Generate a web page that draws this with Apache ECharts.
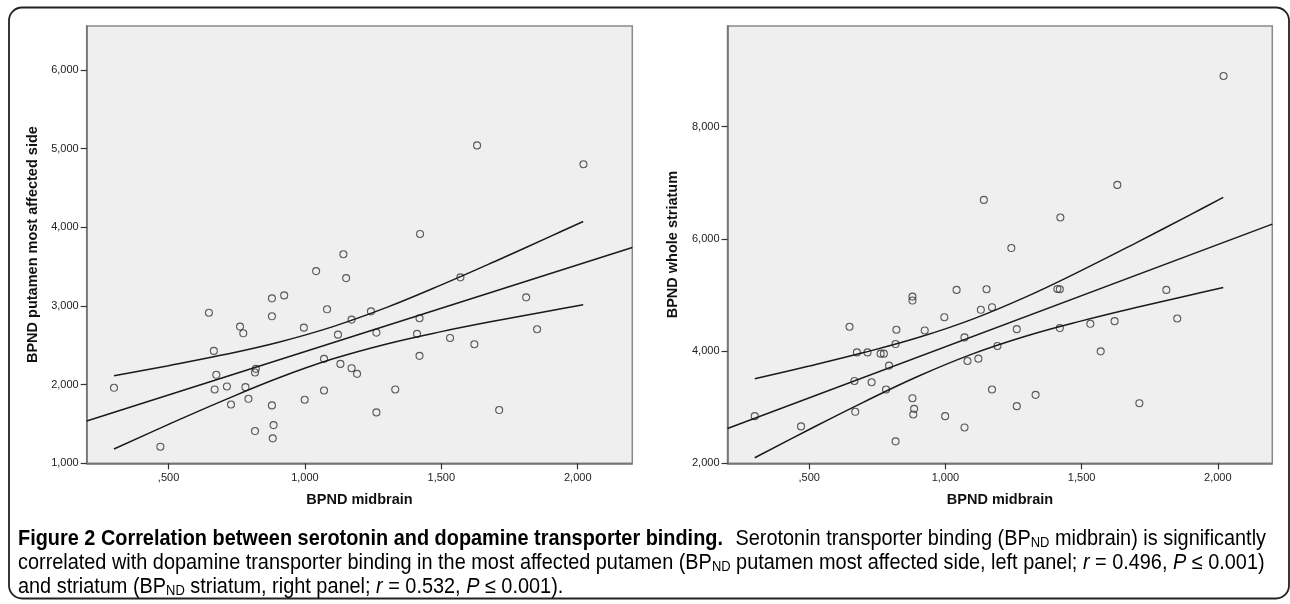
<!DOCTYPE html>
<html>
<head>
<meta charset="utf-8">
<script src="https://cdn.jsdelivr.net/npm/echarts@6.0.0/dist/echarts.min.js"></script>
<style>
html,body{margin:0;padding:0;background:#fff;}
#chart{width:1290px;height:604px;}
</style>
</head>
<body>
<div id="chart"></div>
<script>
// ---- data ----
const midbrain = [0.30,0.47,0.648,0.666,0.675,0.669,0.714,0.729,0.762,0.774,0.782,0.793,0.817,0.820,0.817,0.879,0.879,0.879,0.885,0.882,0.924,0.996,0.999,1.041,1.081,1.070,1.070,1.121,1.130,1.141,1.151,1.171,1.171,1.191,1.242,1.262,1.262,1.331,1.411,1.420,1.420,1.422,1.532,1.570,1.621,1.631,1.712,1.811,1.851,2.021];
const putamen = [1960,1211,2915,2429,2125,1939,1977,1748,2738,2653,1968,1820,2154,2201,1410,3097,2869,1736,1486,1317,3135,2725,1808,3444,2958,2328,1926,2636,2264,3658,3355,2827,2209,2137,2932,2662,1647,1939,2645,2844,2366,3916,2594,3364,2514,5042,1677,3110,2704,4802];
const striatum = [2840,2657,4432,3467,3976,2917,3976,3444,3953,3953,3314,3740,4124,4379,2391,4970,4899,3160,2970,2870,4367,4603,2840,5089,3822,4243,2639,3864,4734,6692,5100,4781,3314,4089,5834,4390,3018,3219,5106,5100,4408,6379,4485,3994,4532,6959,3071,5089,4580,8900];

// fit lines (end points)
const fitX = [0.2, 2.2];
const putamenFit = [1537, 3743];
const striatumFit = [2621, 6260];

// confidence band curves
const ciX = [0.30, 0.50, 0.70, 0.90, 1.10, 1.30, 1.50, 1.70, 1.90, 2.02];
const putamenUpper = [2112, 2241, 2379, 2537, 2735, 2982, 3268, 3572, 3885, 4075];
const putamenLower = [1182, 1495, 1797, 2081, 2325, 2518, 2674, 2812, 2939, 3015];
const striatumUpper = [3507, 3732, 3972, 4240, 4569, 4974, 5437, 5927, 6431, 6736];
const striatumLower = [2099, 2602, 3090, 3550, 3949, 4272, 4537, 4775, 4999, 5130];

// ticks
const xTickValues = [0.5, 1.0, 1.5, 2.0];
const xTickLabels = [',500', '1,000', '1,500', '2,000'];
const yLeftTickValues = [1000, 2000, 3000, 4000, 5000, 6000];
const yLeftTickLabels = ['1,000', '2,000', '3,000', '4,000', '5,000', '6,000'];
const yRightTickValues = [2000, 4000, 6000, 8000];
const yRightTickLabels = ['2,000', '4,000', '6,000', '8,000'];

const xTitle = 'BPND midbrain';
const yLeftTitle = 'BPND putamen most affected side';
const yRightTitle = 'BPND whole striatum';

// ---- build options ----
function lookup(vals, labels) {
  return function (v) {
    for (let i = 0; i < vals.length; i++) if (Math.abs(vals[i] - v) < 1e-6) return labels[i];
    return '';
  };
}
const FONT = "'Liberation Sans', Arial, sans-serif";
const axisLineStyle = { show: true, lineStyle: { color: '#6e6e6e', width: 1.5 } };
function xAxisOf(gi) {
  return {
    type: 'value', gridIndex: gi, min: 0.2, max: 2.2,
    axisLine: axisLineStyle,
    axisTick: { show: true, customValues: xTickValues, length: 6, lineStyle: { color: '#333', width: 1.2 } },
    axisLabel: { show: true, customValues: xTickValues, formatter: lookup(xTickValues, xTickLabels), margin: 9, color: '#222', fontSize: 11, fontFamily: FONT },
    splitLine: { show: false }
  };
}
function yAxisOf(gi, min, max, vals, labels) {
  return {
    type: 'value', gridIndex: gi, min: min, max: max,
    axisLine: axisLineStyle,
    axisTick: { show: true, customValues: vals, length: 6, lineStyle: { color: '#333', width: 1.2 } },
    axisLabel: { show: true, customValues: vals, formatter: lookup(vals, labels), margin: 8, color: '#222', fontSize: 11, fontFamily: FONT },
    splitLine: { show: false }
  };
}
function scatter(gi, ys) {
  return {
    type: 'scatter', xAxisIndex: gi, yAxisIndex: gi,
    data: midbrain.map((x, i) => [x, ys[i]]),
    symbol: 'circle', symbolSize: 7,
    itemStyle: { color: 'rgba(0,0,0,0)', borderColor: '#333', borderWidth: 1.1 },
    silent: true, z: 3
  };
}
function line(gi, xs, ys, smooth) {
  return {
    type: 'line', xAxisIndex: gi, yAxisIndex: gi,
    data: xs.map((x, i) => [x, ys[i]]),
    showSymbol: false, smooth: smooth ? 0.4 : false,
    lineStyle: { color: '#1a1a1a', width: 1.5 },
    silent: true, z: 4, clip: true
  };
}

const capBase = { fontFamily: FONT, fontSize: 21.5, color: '#231f20' };
const rich = {
  b: Object.assign({}, capBase, { fontWeight: 'bold' }),
  n: Object.assign({}, capBase),
  i: Object.assign({}, capBase, { fontStyle: 'italic' }),
  s: Object.assign({}, capBase, { fontSize: 14, verticalAlign: 'bottom', lineHeight: 13 })
};
const CAP_SX = 0.925;
function capText(x, y, text, align) {
  return {
    type: 'text', x: x, y: y, scaleX: CAP_SX, silent: true,
    style: Object.assign({}, capBase, { text: text, rich: rich, align: align || 'left', verticalAlign: 'middle' })
  };
}
const titleStyle = { fontFamily: FONT, fontSize: 14.5, fontWeight: 'bold', fill: '#111', align: 'center', verticalAlign: 'middle' };

const option = {
  animation: false,
  backgroundColor: '#ffffff',
  grid: [
    { left: 86.7, top: 26, width: 545.6, height: 437.3, show: true, backgroundColor: '#efefef', borderColor: '#8a8a8a', borderWidth: 1.5 },
    { left: 727.5, top: 26, width: 544.8, height: 437.3, show: true, backgroundColor: '#efefef', borderColor: '#8a8a8a', borderWidth: 1.5 }
  ],
  xAxis: [xAxisOf(0), xAxisOf(1)],
  yAxis: [
    yAxisOf(0, 1000, 6560, yLeftTickValues, yLeftTickLabels),
    yAxisOf(1, 2000, 9790, yRightTickValues, yRightTickLabels)
  ],
  series: [
    scatter(0, putamen),
    line(0, fitX, putamenFit, false),
    line(0, ciX, putamenUpper, true),
    line(0, ciX, putamenLower, true),
    scatter(1, striatum),
    line(1, fitX, striatumFit, false),
    line(1, ciX, striatumUpper, true),
    line(1, ciX, striatumLower, true)
  ],
  graphic: [
    { type: 'rect', shape: { x: 9, y: 7.5, width: 1280, height: 591, r: 13 }, style: { fill: 'none', stroke: '#222', lineWidth: 1.8 }, silent: true, z: -1 },
    { type: 'text', x: 33, y: 244.6, rotation: Math.PI / 2, style: Object.assign({ text: yLeftTitle }, titleStyle), silent: true },
    { type: 'text', x: 673, y: 244.6, rotation: Math.PI / 2, style: Object.assign({ text: yRightTitle }, titleStyle), silent: true },
    { type: 'text', x: 359.5, y: 500, style: Object.assign({ text: xTitle }, titleStyle), silent: true },
    { type: 'text', x: 1000, y: 500, style: Object.assign({ text: xTitle }, titleStyle), silent: true },
    capText(18, 539, '{b|Figure 2 Correlation between serotonin and dopamine transporter binding.}', 'left'),
    capText(1266, 539, '{n|Serotonin transporter binding (BP}{s|ND}{n| midbrain) is significantly}', 'right'),
    capText(18, 563, '{n|correlated with dopamine transporter binding in the most affected putamen (BP}{s|ND}{n| putamen most affected side, left panel; }{i|r}{n| = 0.496, }{i|P}{n| ≤ 0.001)}', 'left'),
    capText(18, 587, '{n|and striatum (BP}{s|ND}{n| striatum, right panel; }{i|r}{n| = 0.532, }{i|P}{n| ≤ 0.001).}', 'left')
  ]
};
const chart = echarts.init(document.getElementById('chart'), null, { renderer: 'canvas' });
chart.setOption(option);
</script>
</body>
</html>
